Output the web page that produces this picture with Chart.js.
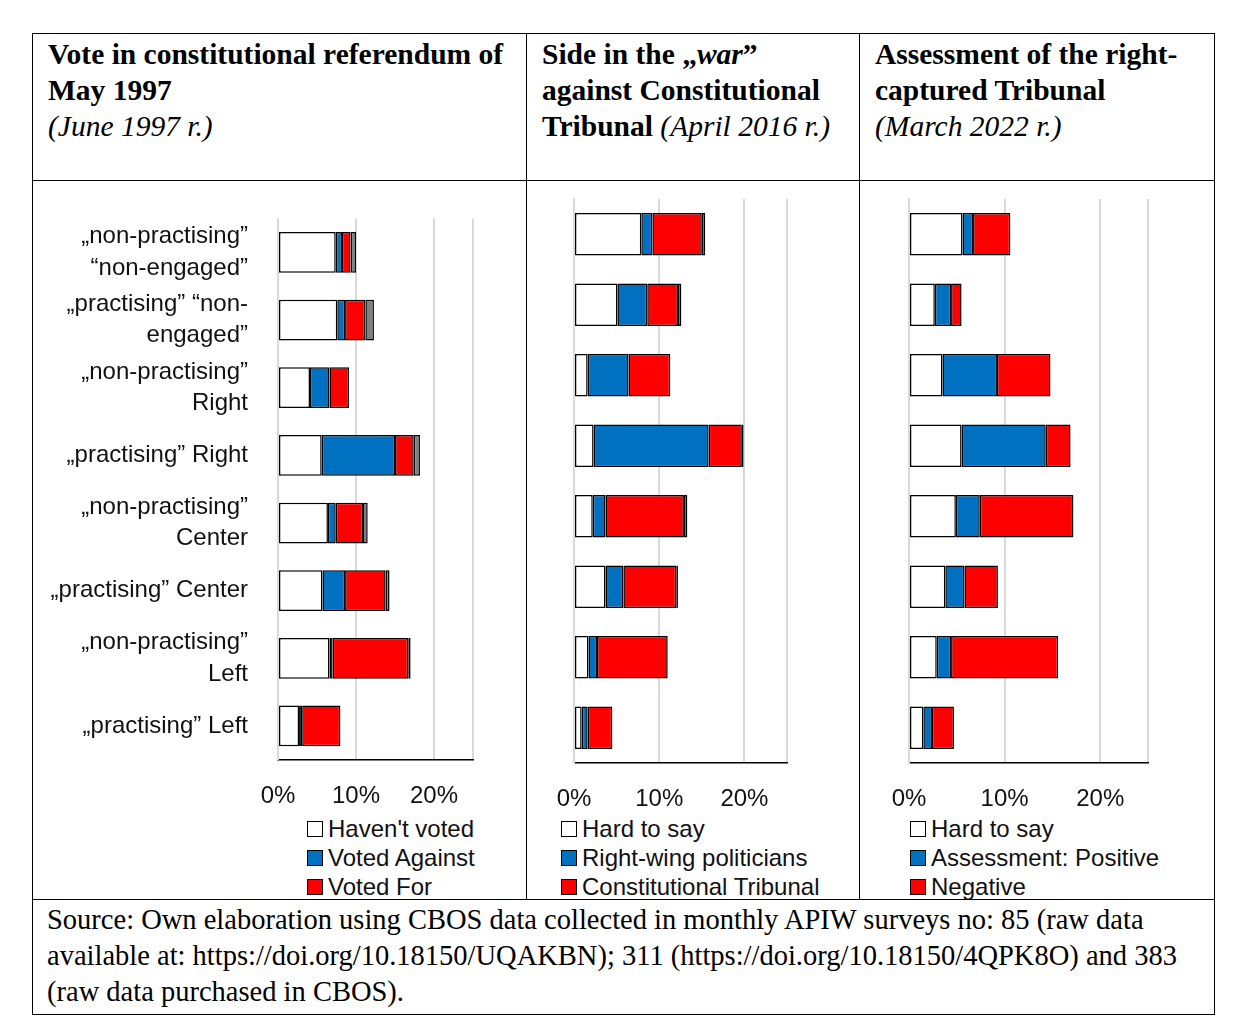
<!DOCTYPE html>
<html>
<head>
<meta charset="utf-8">
<script src="https://cdn.jsdelivr.net/npm/chart.js@4.4.0/dist/chart.umd.min.js"></script>
<style>
  body { margin: 0; background: #fff; }
  table { position: absolute; left: 32px; top: 33px; border-collapse: collapse; width: 1180px; }
  td { border: 1.5px solid #000; padding: 0; vertical-align: top; }
  .hd { font-family: "Liberation Serif", serif; font-size: 29.5px; line-height: 36px; padding: 2px 12px 0 15px; height: 147px; box-sizing: border-box; }
  .hd b { font-weight: bold; }
  .hd i { font-weight: normal; }
  .cell { position: relative; height: 718px; }
  .cell canvas { position: absolute; left: 0; top: 0; }
  .legend { position: absolute; top: 633px; font-family: "Liberation Sans Narrow", "Arial Narrow", "Liberation Sans", sans-serif; font-size: 24px; line-height: 29px; color: #111; }
  .legend div { white-space: nowrap; }
  .sw { display: inline-block; width: 14px; height: 14px; border: 1.5px solid #000; margin-right: 5px; vertical-align: 0px; }
  .src { font-family: "Liberation Serif", serif; font-size: 28.5px; line-height: 36px; padding: 2px 14px 4px 14px; }
</style>
</head>
<body>
<table>
  <tr>
    <td class="hd" style="width:493px"><b>Vote in constitutional referendum of May 1997</b><br><i>(June 1997 r.)</i></td>
    <td class="hd" style="width:332px"><b>Side in the „<i style="font-weight:bold">war</i>” against Constitutional Tribunal</b> <i>(April 2016 r.)</i></td>
    <td class="hd" style="width:354px"><b>Assessment of the right-captured Tribunal</b><br><i>(March 2022 r.)</i></td>
  </tr>
  <tr>
    <td><div class="cell" style="width:493px"><canvas id="c1"></canvas>
      <div class="legend" style="left:274px">
        <div><span class="sw" style="background:#fff"></span>Haven't voted</div>
        <div><span class="sw" style="background:#0070C0"></span>Voted Against</div>
        <div><span class="sw" style="background:#FF0000"></span>Voted For</div>
      </div></div></td>
    <td><div class="cell" style="width:332px"><canvas id="c2"></canvas>
      <div class="legend" style="left:34px">
        <div><span class="sw" style="background:#fff"></span>Hard to say</div>
        <div><span class="sw" style="background:#0070C0"></span>Right-wing politicians</div>
        <div><span class="sw" style="background:#FF0000"></span>Constitutional Tribunal</div>
      </div></div></td>
    <td><div class="cell" style="width:354px"><canvas id="c3"></canvas>
      <div class="legend" style="left:50px">
        <div><span class="sw" style="background:#fff"></span>Hard to say</div>
        <div><span class="sw" style="background:#0070C0"></span>Assessment: Positive</div>
        <div><span class="sw" style="background:#FF0000"></span>Negative</div>
      </div></div></td>
  </tr>
  <tr>
    <td colspan="3" class="src">Source: Own elaboration using CBOS data collected in monthly APIW surveys no: 85 (raw data available at: https://doi.org/10.18150/UQAKBN); 311 (https://doi.org/10.18150/4QPK8O) and 383 (raw data purchased in CBOS).</td>
  </tr>
</table>

<script>
/* ---------- categories ---------- */
const categories = [
  ['„non-practising”', '“non-engaged”'],
  ['„practising” “non-', 'engaged”'],
  ['„non-practising”', 'Right'],
  '„practising” Right',
  ['„non-practising”', 'Center'],
  '„practising” Center',
  ['„non-practising”', 'Left'],
  '„practising” Left',
];
const xTicks = ['0%', '10%', '20%'];

/* ---------- panel 1: referendum 1997 (% of total) ---------- */
const p1HaventVoted = [7.4, 7.6, 4.1, 5.6, 6.4, 5.7, 6.6, 2.7];
const p1Against     = [0.8, 1.0, 2.5, 9.4, 1.0, 2.9, 0.4, 0.4];
const p1For         = [1.1, 2.6, 2.5, 2.4, 3.5, 5.2, 9.7, 4.9];
const p1Other       = [0.7, 1.1, 0.0, 0.8, 0.6, 0.5, 0.3, 0.0];

/* ---------- panel 2: "war" 2016 ---------- */
const p2HardToSay   = [7.9, 5.1, 1.6, 2.3, 2.2, 3.7, 1.7, 0.9];
const p2RightWing   = [1.3, 3.5, 4.8, 13.5, 1.5, 2.1, 1.0, 0.7];
const p2Tribunal    = [5.8, 3.6, 4.9, 3.9, 9.2, 6.2, 8.3, 2.9];
const p2Other       = [0.4, 0.4, 0.0, 0.2, 0.4, 0.2, 0.0, 0.0];

/* ---------- panel 3: assessment 2022 ---------- */
const p3HardToSay   = [5.6, 2.7, 3.5, 5.5, 4.9, 3.8, 2.9, 1.5];
const p3Positive    = [1.1, 1.7, 5.7, 8.8, 2.5, 2.0, 1.5, 0.9];
const p3Negative    = [3.9, 1.1, 5.6, 2.6, 9.8, 3.5, 11.2, 2.3];

const WHITE = '#FFFFFF', BLUE = '#0070C0', RED = '#FF0000', GREY = '#808080';
const FONT = '"Liberation Sans Narrow", "Arial Narrow", "Liberation Sans", sans-serif';

function ds(data, color) {
  return { data, backgroundColor: color, borderColor: '#000', borderWidth: 1.5, borderSkipped: false,
           barPercentage: 0.86, categoryPercentage: 0.7 };
}

function makeChart(id, w, yWidth, padRight, datasets, showLabels) {
  const cv = document.getElementById(id);
  cv.width = w; cv.height = 632;
  cv.style.width = w + 'px'; cv.style.height = '632px';
  new Chart(cv, {
    type: 'bar',
    data: { labels: categories, datasets },
    options: {
      indexAxis: 'y',
      responsive: false,
      animation: false,
      devicePixelRatio: 1,
      layout: { padding: { top: 18, right: padRight, left: 0, bottom: 0 } },
      plugins: { legend: { display: false }, tooltip: { enabled: false } },
      scales: {
        x: {
          stacked: true, min: 0, max: 25,
          ticks: { stepSize: 10, color: '#111', padding: 22, font: { family: FONT, size: 24 },
                   callback: (v, i) => xTicks[i] || '' },
          grid: { color: '#D9D9D9', lineWidth: 2, drawTicks: false },
          border: { color: '#000', width: 1.5 },
          afterFit: s => { s.height = 50; },
        },
        y: {
          stacked: true,
          ticks: { display: showLabels, color: '#111', font: { family: FONT, size: 24, lineHeight: 1.3 }, padding: 22 },
          grid: { display: false },
          border: { color: '#D9D9D9', width: 2 },
          afterFit: s => { s.width = yWidth; },
        },
      },
    },
  });
}

makeChart('c1', 493, 245, 53, [ds(p1HaventVoted, WHITE), ds(p1Against, BLUE), ds(p1For, RED), ds(p1Other, GREY)], true);
makeChart('c2', 332, 47, 72, [ds(p2HardToSay, WHITE), ds(p2RightWing, BLUE), ds(p2Tribunal, RED), ds(p2Other, GREY)], false);
makeChart('c3', 354, 49, 66, [ds(p3HardToSay, WHITE), ds(p3Positive, BLUE), ds(p3Negative, RED)], false);
</script>
</body>
</html>
